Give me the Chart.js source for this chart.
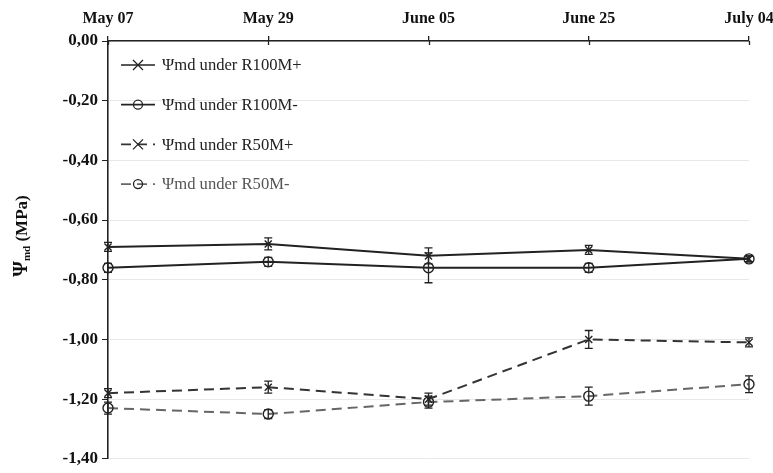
<!DOCTYPE html>
<html>
<head>
<meta charset="utf-8">
<script src="https://cdn.jsdelivr.net/npm/chart.js@4"></script>
<style>
  html, body { margin: 0; padding: 0; background: #fff; }
  #wrap { width: 773px; height: 473px; }
</style>
</head>
<body>
<div id="wrap"><canvas id="chart" width="773" height="473"></canvas></div>
<script>
const dates = ["May 07", "May 29", "June 05", "June 25", "July 04"];

const r100Plus = [-0.69, -0.68, -0.72, -0.70, -0.73];
const r100Minus = [-0.76, -0.74, -0.76, -0.76, -0.73];
const r50Plus = [-1.18, -1.16, -1.20, -1.00, -1.01];
const r50Minus = [-1.23, -1.25, -1.21, -1.19, -1.15];

// error bar half-widths (MPa)
const r100PlusErr = [0.015, 0.02, 0.027, 0.015, 0.01];
const r100MinusErr = [0.015, 0.015, 0.05, 0.015, 0.01];
const r50PlusErr = [0.015, 0.02, 0.02, 0.03, 0.015];
const r50MinusErr = [0.02, 0.015, 0.02, 0.03, 0.028];

const yTicks = [0, -0.2, -0.4, -0.6, -0.8, -1.0, -1.2, -1.4];

Chart.defaults.font.family = "'Liberation Serif', 'Times New Roman', serif";

// vertical error bars with caps
const errorBars = {
  id: 'errorBars',
  afterDatasetsDraw(chart) {
    const ctx = chart.ctx;
    const y = chart.scales.y;
    chart.data.datasets.forEach((ds, i) => {
      const meta = chart.getDatasetMeta(i);
      ctx.save();
      ctx.strokeStyle = ds.errColor;
      ctx.lineWidth = 1.3;
      ctx.setLineDash([]);
      meta.data.forEach((pt, j) => {
        const top = y.getPixelForValue(ds.data[j] + ds.err[j]);
        const bot = y.getPixelForValue(ds.data[j] - ds.err[j]);
        ctx.beginPath();
        ctx.moveTo(pt.x, top); ctx.lineTo(pt.x, bot);
        ctx.moveTo(pt.x - 4, top); ctx.lineTo(pt.x + 4, top);
        ctx.moveTo(pt.x - 4, bot); ctx.lineTo(pt.x + 4, bot);
        ctx.stroke();
      });
      ctx.restore();
    });
  }
};

// legend inside the plot, top-left, y-axis title with subscript, inner tick marks on top axis
const extras = {
  id: 'extras',
  afterDraw(chart) {
    const ctx = chart.ctx;
    const area = chart.chartArea;
    ctx.save();

    const xs = chart.scales.x;
    ctx.strokeStyle = '#222';
    ctx.lineWidth = 1.3;
    xs.ticks.forEach((t, i) => {
      const px = Math.round(xs.getPixelForTick(i)) + 0.5;
      ctx.beginPath();
      ctx.moveTo(px, area.top); ctx.lineTo(px, area.top + 4);
      ctx.stroke();
    });

    chart.data.datasets.forEach((ds, i) => {
      const cy = area.top + 24 + i * 39.7;
      const x0 = area.left + 13, x1 = area.left + 47;
      ctx.strokeStyle = ds.borderColor;
      ctx.lineWidth = 1.7;
      ctx.setLineDash(ds.borderDash || []);
      ctx.beginPath();
      ctx.moveTo(x0, cy); ctx.lineTo(x1, cy);
      ctx.stroke();
      ctx.setLineDash([]);
      const mx = (x0 + x1) / 2;
      ctx.lineWidth = 1.3;
      ctx.strokeStyle = ds.errColor;
      ctx.beginPath();
      if (ds.pointStyle === 'crossRot') {
        ctx.moveTo(mx - 5, cy - 5); ctx.lineTo(mx + 5, cy + 5);
        ctx.moveTo(mx - 5, cy + 5); ctx.lineTo(mx + 5, cy - 5);
      } else {
        ctx.arc(mx, cy, 4.5, 0, Math.PI * 2);
      }
      ctx.stroke();
      ctx.fillStyle = i === 3 ? '#555' : '#222';
      ctx.font = "16.6px 'Liberation Serif', serif";
      ctx.textBaseline = 'middle';
      ctx.textAlign = 'left';
      ctx.fillText(ds.label, x1 + 7, cy + 1);
    });

    // y-axis title: Ψmd (MPa)
    ctx.translate(20, 236);
    ctx.rotate(-Math.PI / 2);
    ctx.fillStyle = '#111';
    ctx.textBaseline = 'alphabetic';
    ctx.textAlign = 'left';
    const big = "bold 20px 'Liberation Serif', serif";
    const small = "bold 11px 'Liberation Serif', serif";
    const rest = "bold 17px 'Liberation Serif', serif";
    ctx.font = big; const w1 = ctx.measureText('Ψ').width;
    ctx.font = small; const w2 = ctx.measureText('md').width;
    ctx.font = rest; const w3 = ctx.measureText(' (MPa)').width;
    let x = -(w1 + w2 + w3) / 2;
    ctx.font = big; ctx.fillText('Ψ', x, 7); x += w1;
    ctx.font = small; ctx.fillText('md', x, 10); x += w2;
    ctx.font = rest; ctx.fillText(' (MPa)', x, 7);
    ctx.restore();
  }
};

function series(label, data, err, color, dash, style) {
  return {
    label: label,
    data: data,
    err: err,
    errColor: '#222',
    borderColor: color,
    borderWidth: 2,
    borderDash: dash,
    pointStyle: style,
    pointRadius: 5,
    pointBorderWidth: 1.4,
    pointBorderColor: '#222',
    pointBackgroundColor: 'rgba(0,0,0,0)',
    tension: 0,
    fill: false
  };
}

new Chart(document.getElementById('chart'), {
  type: 'line',
  data: {
    labels: dates,
    datasets: [
      series('Ψmd under R100M+', r100Plus, r100PlusErr, '#222', [], 'crossRot'),
      series('Ψmd under R100M-', r100Minus, r100MinusErr, '#222', [], 'circle'),
      series('Ψmd under R50M+', r50Plus, r50PlusErr, '#333', [10, 6], 'crossRot'),
      series('Ψmd under R50M-', r50Minus, r50MinusErr, '#666', [10, 6], 'circle')
    ]
  },
  options: {
    responsive: false,
    animation: false,
    layout: { padding: { left: 0, top: 0, right: 24, bottom: 11 } },
    plugins: { legend: { display: false }, tooltip: { enabled: false } },
    scales: {
      x: {
        position: 'top',
        offset: false,
        grid: { drawOnChartArea: false, tickColor: '#222', tickLength: 5, lineWidth: 1.3 },
        border: { color: '#222', width: 1.6 },
        ticks: { color: '#111', font: { size: 16, weight: 'bold' }, padding: 8, maxRotation: 0 },
        afterFit(scale) { scale.height = 41; scale.paddingLeft = 0; scale.paddingRight = 0; }
      },
      y: {
        min: -1.4,
        max: 0,
        afterBuildTicks(scale) { scale.ticks = yTicks.map(v => ({ value: v })); },
        grid: { color: '#e8e8e8', tickColor: '#222', tickLength: 6, lineWidth: 1 },
        border: { color: '#222', width: 1.6 },
        ticks: {
          color: '#111',
          font: { size: 17, weight: 'bold' },
          padding: 4,
          callback: v => v.toFixed(2).replace('.', ',')
        },
        afterFit(scale) { scale.width = 108; }
      }
    }
  },
  plugins: [errorBars, extras]
});
</script>
</body>
</html>
